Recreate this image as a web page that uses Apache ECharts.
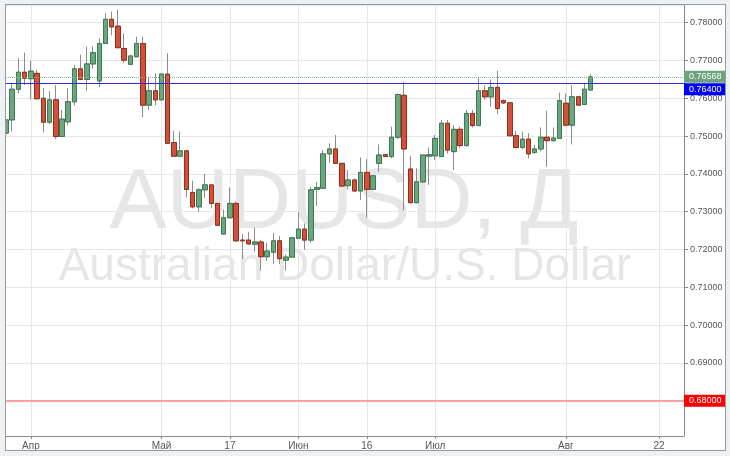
<!DOCTYPE html>
<html>
<head>
<meta charset="utf-8">
<script src="https://cdn.jsdelivr.net/npm/echarts@6/dist/echarts.min.js"></script>
<style>
  html, body { margin: 0; padding: 0; background: #eef1f4; }
  #frame { position: absolute; left: 5px; top: 4px; width: 721px; height: 447px; box-sizing: border-box; border: 1px solid #9a9a9a; background: #fff; }
  #chart { width: 719px; height: 445px; }
</style>
</head>
<body>
<div id="frame"><div id="chart"></div></div>
<script>
// AUDUSD daily, 28 Mar - 5 Aug 2016
let opens = [0.7508, 0.7543, 0.7624, 0.7669, 0.7652, 0.7666, 0.7600, 0.7537, 0.7596, 0.7499,
  0.7538, 0.7591, 0.7678, 0.7650, 0.7691, 0.7646, 0.7745, 0.7809, 0.7791, 0.7732,
  0.7690, 0.7710, 0.7745, 0.7582, 0.7620, 0.7596, 0.7664, 0.7483, 0.7447, 0.7461,
  0.7351, 0.7313, 0.7358, 0.7371, 0.7322, 0.7241, 0.7284, 0.7322, 0.7225, 0.7225,
  0.7214, 0.7220, 0.7181, 0.7193, 0.7223, 0.7172, 0.7180, 0.7230, 0.7254, 0.7225,
  0.7359, 0.7362, 0.7453, 0.7466, 0.7428, 0.7369, 0.7384, 0.7355, 0.7404, 0.7359,
  0.7428, 0.7451, 0.7446, 0.7497, 0.7608, 0.7413, 0.7324, 0.7379, 0.7447, 0.7448,
  0.7446, 0.7534, 0.7459, 0.7518, 0.7475, 0.7560, 0.7528, 0.7620, 0.7604, 0.7629,
  0.7594, 0.7588, 0.7501, 0.7470, 0.7492, 0.7457, 0.7466, 0.7497, 0.7488, 0.7494,
  0.7587, 0.7529, 0.7604, 0.7584, 0.7622];
let closes = [0.7543, 0.7624, 0.7669, 0.7653, 0.7672, 0.7599, 0.7537, 0.7596, 0.7499, 0.7545,
  0.7591, 0.7678, 0.7650, 0.7691, 0.7721, 0.7745, 0.7809, 0.7789, 0.7734, 0.7701,
  0.7712, 0.7745, 0.7582, 0.7620, 0.7596, 0.7664, 0.7481, 0.7447, 0.7461, 0.7359,
  0.7313, 0.7358, 0.7371, 0.7322, 0.7264, 0.7284, 0.7322, 0.7223, 0.7223, 0.7215,
  0.7220, 0.7181, 0.7196, 0.7223, 0.7176, 0.7180, 0.7231, 0.7254, 0.7225, 0.7358,
  0.7364, 0.7453, 0.7466, 0.7428, 0.7368, 0.7384, 0.7355, 0.7404, 0.7359, 0.7395,
  0.7450, 0.7446, 0.7497, 0.7610, 0.7466, 0.7324, 0.7379, 0.7450, 0.7451, 0.7494,
  0.7534, 0.7463, 0.7518, 0.7475, 0.7560, 0.7528, 0.7620, 0.7604, 0.7629, 0.7573,
  0.7588, 0.7501, 0.7470, 0.7492, 0.7453, 0.7466, 0.7497, 0.7488, 0.7495, 0.7594,
  0.7529, 0.7604, 0.7582, 0.7624, 0.76568];
let lows = [0.7494, 0.7512, 0.7613, 0.7635, 0.7597, 0.7596, 0.7510, 0.7532, 0.7492, 0.7497,
  0.7528, 0.7581, 0.7648, 0.7620, 0.7679, 0.7629, 0.7744, 0.7767, 0.7732, 0.7693,
  0.7689, 0.7709, 0.7550, 0.7569, 0.7582, 0.7594, 0.7480, 0.7445, 0.7446, 0.7338,
  0.7309, 0.7300, 0.7336, 0.7309, 0.7262, 0.7240, 0.7283, 0.7221, 0.7175, 0.7212,
  0.7194, 0.7144, 0.7170, 0.7162, 0.7162, 0.7144, 0.7179, 0.7228, 0.7199, 0.7218,
  0.7315, 0.7361, 0.7430, 0.7427, 0.7366, 0.7359, 0.7353, 0.7331, 0.7285, 0.7358,
  0.7406, 0.7445, 0.7441, 0.7492, 0.7303, 0.7322, 0.7322, 0.7378, 0.7371, 0.7437,
  0.7445, 0.7454, 0.7410, 0.7468, 0.7472, 0.7523, 0.7527, 0.7596, 0.7578, 0.7558,
  0.7585, 0.7500, 0.7468, 0.7465, 0.7441, 0.7453, 0.7459, 0.7419, 0.7485, 0.7493,
  0.7527, 0.7478, 0.7581, 0.7583, 0.7621];
let highs = [0.7556, 0.7641, 0.7706, 0.7721, 0.7699, 0.7675, 0.7627, 0.7619, 0.7635, 0.7569,
  0.7627, 0.7688, 0.7715, 0.7737, 0.7737, 0.7759, 0.7825, 0.7829, 0.7834, 0.7772,
  0.7715, 0.7763, 0.7763, 0.7657, 0.7666, 0.7666, 0.7719, 0.7514, 0.7512, 0.7462,
  0.7382, 0.7362, 0.7400, 0.7372, 0.7323, 0.7306, 0.7364, 0.7327, 0.7241, 0.7247,
  0.7258, 0.7225, 0.7218, 0.7243, 0.7236, 0.7187, 0.7234, 0.7299, 0.7269, 0.7366,
  0.7379, 0.7463, 0.7481, 0.7503, 0.7429, 0.7410, 0.7388, 0.7444, 0.7439, 0.7396,
  0.7478, 0.7452, 0.7525, 0.7613, 0.7644, 0.7448, 0.7415, 0.7451, 0.7470, 0.7503,
  0.7543, 0.7543, 0.7529, 0.7525, 0.7569, 0.7569, 0.7657, 0.7635, 0.7650, 0.7673,
  0.7597, 0.7591, 0.7514, 0.7512, 0.7508, 0.7477, 0.7523, 0.7567, 0.7523, 0.7615,
  0.7613, 0.7635, 0.7605, 0.7640, 0.7664];

// dates shown on the x axis and their labels
let tickDates = ['2016-04-01', '2016-05-02', '2016-05-17', '2016-06-01', '2016-06-16', '2016-07-01', '2016-08-01', '2016-08-22'];
let tickNames = ['Апр', 'Май', '17', 'Июн', '16', 'Июл', 'Авг', '22'];

// horizontal levels
let levelLast = 0.76568;
let levelBlue = 0.76400;
let levelRed = 0.68000;

let yMin = 0.67067;
let yMax = 0.78469;

// trading days (Mon-Fri) starting 28 Mar 2016
let dates = [];
let day = new Date(Date.UTC(2016, 2, 28));
while (dates.length < 110) {
  let wd = day.getUTCDay();
  if (wd !== 0 && wd !== 6) dates.push(day.toISOString().slice(0, 10));
  day.setUTCDate(day.getUTCDate() + 1);
}

let ohlc = opens.map((o, i) => [o, closes[i], lows[i], highs[i]]);
let bodies = opens.map((o, i) => [o, closes[i], Math.min(o, closes[i]), Math.max(o, closes[i])]);

function isTick(index, value) {
  return tickDates.indexOf(value) >= 0;
}

let font = 'Arial, "Liberation Sans", sans-serif';
let chart = echarts.init(document.getElementById('chart'));

chart.setOption({
  animation: false,
  grid: { left: 0, top: 0, right: 41, bottom: 14, outerBoundsMode: 'none', containLabel: false },
  graphic: [
    {
      type: 'text', x: 338, y: 199, z: -10, silent: true,
      style: { text: 'AUDUSD, Д', font: '86px ' + font, fill: '#e6e6e6', align: 'center', verticalAlign: 'middle' }
    },
    {
      type: 'text', x: 339, y: 262, z: -10, silent: true,
      style: { text: 'Australian Dollar/U.S. Dollar', font: '46px ' + font, fill: '#e6e6e6', align: 'center', verticalAlign: 'middle' }
    }
  ],
  xAxis: {
    type: 'category',
    data: dates,
    boundaryGap: false,
    axisLine: { lineStyle: { color: '#8a8a8a' } },
    axisTick: { interval: isTick, length: 3, lineStyle: { color: '#8a8a8a' } },
    axisLabel: {
      interval: isTick, margin: 5, color: '#555', fontSize: 10, fontFamily: font,
      formatter: function (v) { return tickNames[tickDates.indexOf(v)]; }
    },
    splitLine: { show: true, interval: isTick, lineStyle: { color: '#e6e6e6' } }
  },
  yAxis: {
    type: 'value',
    position: 'right',
    min: yMin,
    max: yMax,
    splitNumber: 11,
    minInterval: 0.01,
    maxInterval: 0.01,
    axisLine: { show: true, lineStyle: { color: '#8a8a8a' } },
    axisTick: { show: true, length: 4, lineStyle: { color: '#8a8a8a' } },
    axisLabel: {
      showMinLabel: false, showMaxLabel: false, margin: 6,
      color: '#555', fontSize: 9, fontFamily: font,
      formatter: function (v) { return v.toFixed(5); }
    },
    splitLine: { lineStyle: { color: '#e6e6e6' } }
  },
  series: [
    {
      // wicks
      type: 'candlestick',
      data: ohlc,
      barWidth: 5,
      itemStyle: { color: '#6aa67f', color0: '#d4503a', borderColor: '#8c8c8c', borderColor0: '#8c8c8c', borderWidth: 1 }
    },
    {
      // bodies
      type: 'candlestick',
      data: bodies,
      barWidth: 5,
      itemStyle: { color: '#6aa67f', color0: '#d4503a', borderColor: '#3d7a50', borderColor0: '#8e2e1e', borderWidth: 1 },
      markLine: {
        symbol: 'none',
        silent: true,
        precision: 5,
        label: {
          show: true, position: 'end', distance: 0,
          color: '#fff', fontSize: 9, fontFamily: font, padding: [2, 4, 1, 5],
          formatter: function (p) { return Number(p.value).toFixed(5); }
        },
        data: [
          { yAxis: levelLast, lineStyle: { color: '#7cb68e', type: 'dotted', width: 1 }, label: { backgroundColor: '#6ca37d' } },
          { yAxis: levelBlue, lineStyle: { color: '#2a2ae0', type: 'solid', width: 1 }, label: { backgroundColor: '#0000ff', offset: [0, 6] } },
          { yAxis: levelRed, lineStyle: { color: '#ff8585', type: 'solid', width: 1.5 }, label: { backgroundColor: '#ff0000' } }
        ]
      }
    }
  ]
});
</script>
</body>
</html>
